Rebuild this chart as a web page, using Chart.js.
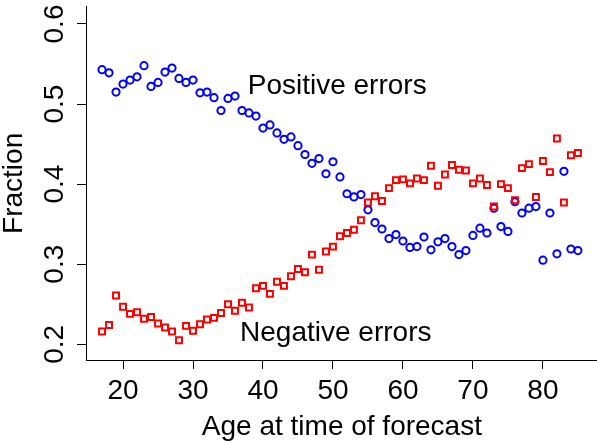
<!DOCTYPE html>
<html>
<head>
<meta charset="utf-8">
<script src="https://cdn.jsdelivr.net/npm/chart.js@4/dist/chart.umd.min.js"></script>
<style>
html,body{margin:0;padding:0;overflow:hidden;background:#fff;width:597px;height:442px}
#wrap{position:absolute;left:0;top:0;width:604px;height:442px}
canvas{display:block}
</style>
</head>
<body>
<div id="wrap"><canvas id="c" width="604" height="442" style="width:604px;height:442px"></canvas></div>
<script>
const ages = [17,18,19,20,21,22,23,24,25,26,27,28,29,30,31,32,33,34,35,36,37,38,39,40,41,42,43,44,45,46,47,48,49,50,51,52,53,54,55,56,57,58,59,60,61,62,63,64,65,66,67,68,69,70,71,72,73,74,75,76,77,78,79,80,81,82,83,84,85];
const positiveErrors = [0.543,0.539,0.515,0.525,0.530,0.534,0.548,0.522,0.527,0.540,0.545,0.532,0.527,0.530,0.514,0.515,0.508,0.492,0.507,0.510,0.492,0.489,0.485,0.470,0.474,0.464,0.456,0.459,0.448,0.437,0.426,0.432,0.413,0.428,0.409,0.388,0.384,0.387,0.368,0.352,0.344,0.332,0.337,0.329,0.321,0.322,0.334,0.318,0.328,0.332,0.322,0.312,0.317,0.336,0.345,0.339,0.370,0.347,0.341,0.378,0.364,0.370,0.372,0.305,0.364,0.313,0.416,0.319,0.317];
const negativeErrors = [0.216,0.224,0.261,0.247,0.238,0.240,0.232,0.234,0.226,0.221,0.216,0.205,0.223,0.217,0.225,0.231,0.233,0.239,0.250,0.242,0.252,0.246,0.270,0.273,0.263,0.278,0.273,0.285,0.294,0.290,0.312,0.293,0.316,0.322,0.335,0.339,0.343,0.355,0.377,0.385,0.379,0.395,0.405,0.406,0.401,0.407,0.405,0.423,0.398,0.412,0.424,0.418,0.417,0.401,0.407,0.399,0.372,0.400,0.395,0.380,0.420,0.425,0.384,0.429,0.415,0.457,0.377,0.436,0.439];
const xTickValues = [20,30,40,50,60,70,80];
const xTickLabels = ['20','30','40','50','60','70','80'];
const yTickValues = [0.2,0.3,0.4,0.5,0.6];
const yTickLabels = ['0.2','0.3','0.4','0.5','0.6'];
const noteTexts = ['Positive errors','Negative errors'];
const noteAges = [50.6,50.4];
const noteFractions = [0.5126,0.2041];

const FONT = '"Liberation Sans", Arial, Helvetica, sans-serif';

const notesPlugin = {
  id: 'notes',
  afterDatasetsDraw(chart) {
    const {ctx, scales} = chart;
    ctx.save();
    ctx.font = '28px ' + FONT;
    ctx.fillStyle = '#000';
    ctx.textAlign = 'center';
    ctx.textBaseline = 'alphabetic';
    noteTexts.forEach((t, i) => {
      ctx.fillText(t, scales.x.getPixelForValue(noteAges[i]), scales.y.getPixelForValue(noteFractions[i]));
    });
    ctx.restore();
  }
};

new Chart(document.getElementById('c'), {
  type: 'scatter',
  data: {
    datasets: [
      {
        label: 'Negative errors',
        data: ages.map((a, i) => ({x: a, y: negativeErrors[i]})),
        pointStyle: 'rect',
        radius: 4.2,
        borderWidth: 2,
        borderColor: '#ff0000',
        backgroundColor: 'rgba(0,0,0,0)'
      },
      {
        label: 'Positive errors',
        data: ages.map((a, i) => ({x: a, y: positiveErrors[i]})),
        pointStyle: 'circle',
        radius: 3.6,
        borderWidth: 2,
        borderColor: '#0000ff',
        backgroundColor: 'rgba(0,0,0,0)'
      }
    ]
  },
  options: {
    responsive: false,
    animation: false,
    devicePixelRatio: 1,
    layout: {padding: {top: 6.7, left: 0, right: 0, bottom: 0}},
    plugins: {legend: {display: false}, tooltip: {enabled: false}},
    scales: {
      x: {
        type: 'linear',
        min: 14.71,
        max: 87.84,
        afterBuildTicks: s => { s.ticks = xTickValues.map(v => ({value: v})); },
        afterFit: s => { s.height = 82; s.paddingLeft = 0; s.paddingRight = 0; s.paddingTop = 0; s.paddingBottom = 0; },
        ticks: {
          font: {family: FONT, size: 28},
          color: '#000',
          padding: 5.5,
          minRotation: 0,
          maxRotation: 0,
          autoSkip: false,
          callback: v => xTickLabels[xTickValues.indexOf(v)]
        },
        grid: {display: true, drawOnChartArea: false, drawTicks: true, tickLength: 9, color: '#000', lineWidth: 1},
        border: {display: true, color: '#000', width: 1},
        title: {display: true, text: 'Age at time of forecast', color: '#000', font: {family: FONT, size: 28, lineHeight: 1.05}, padding: 0}
      },
      y: {
        type: 'linear',
        min: 0.1804,
        max: 0.6216,
        afterBuildTicks: s => { s.ticks = yTickValues.map(v => ({value: v})); },
        afterFit: s => { s.width = 86; s.paddingLeft = 0; s.paddingRight = 0; s.paddingTop = 0; s.paddingBottom = 0; },
        ticks: {
          font: {family: FONT, size: 28},
          color: '#000',
          padding: 2.5,
          minRotation: 90,
          maxRotation: 90,
          crossAlign: 'center',
          autoSkip: false,
          callback: v => yTickLabels[yTickValues.findIndex(t => Math.abs(t - v) < 1e-9)]
        },
        grid: {display: true, drawOnChartArea: false, drawTicks: true, tickLength: 9, color: '#000', lineWidth: 1},
        border: {display: true, color: '#000', width: 1},
        title: {display: true, text: 'Fraction', color: '#000', font: {family: FONT, size: 28, lineHeight: 1.0}, padding: 0}
      }
    }
  },
  plugins: [notesPlugin]
});
</script>
</body>
</html>
